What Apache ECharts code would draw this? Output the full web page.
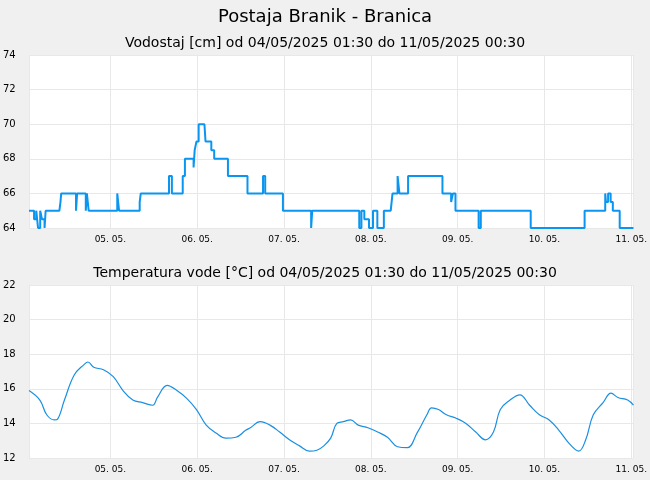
<!DOCTYPE html><html><head><meta charset="utf-8"><script src="https://cdn.jsdelivr.net/npm/echarts@6/dist/echarts.min.js"></script>
<style>html,body{margin:0;background:#f0f0f0}#c{width:650px;height:480px}</style></head><body><div id="c"></div><script>
// hours since 04.05.2025 00:00
const levelHours=[1.5,2.9,3.5,4.0,4.6,5.1,5.8,6.1,9.9,10.2,10.4,14.5,14.8,15.3,17.2,17.5,18.0,18.6,25.9,26.4,27,32.1,32.4,32.7,40.2,41,41.9,44,44.6,45.1,47,47.3,47.8,48.4,50,50.3,51.3,51.9,52.7,53.2,56.5,57,61.9,62.7,66.2,66.8,67.3,71.7,72.2,79.5,79.8,80.3,92.8,93.4,94.2,95.5,96.6,97.8,99,99.6,101.5,102,103.4,103.9,104.4,106.3,106.9,115.8,116.4,118.2,118.7,119.4,120.1,125.8,126.4,126.9,140.2,140.5,155.1,155.6,160.8,161,161.6,162.3,162.9,163.5,164.8,165.4,168.6];
const levelVals=[65,64.5,65,64,65,64.5,64,65,65,65.5,66,65,66,66,65,66,65,65,66,65,65,65.5,66,66,67,66,66,67,68,68,67.5,68.5,69,70,70,69,69,68.5,68,68,67,67,66,66,67,66,66,65,65,64,65,65,64,65,64.5,64,65,64,64,65,65,66,67,66,66,67,67,66,66,65.5,66,65,65,64,65,65,64,64,65,65,66,65.5,66,65.5,65,65,64,64,64];
const tempHours=[1.5,4.5,6.4,8.5,9.4,11.3,14,16.7,17.8,19.4,22.1,24.8,27.5,30.2,32.9,35.7,37,39.7,42.4,45.1,47.8,50.5,53.2,55.9,58.7,61.4,62.7,65.4,68.1,70.8,73.5,76.3,79,81.1,83,84.9,86.6,88.4,90.4,92.5,95.2,97.9,100.6,103.4,106.1,108.8,111.5,112.8,114.7,116.9,119.6,122.3,125,127.7,129.9,131.8,134.5,137.2,139.9,142.6,145.3,148,150.8,153.5,155.4,157.5,160.2,162.4,164.3,167,168.6];
const tempVals=[15.9,15.35,14.5,14.2,14.25,15.35,16.8,17.4,17.55,17.25,17.1,16.7,15.9,15.35,15.2,15.05,15.5,16.2,15.9,15.45,14.8,13.9,13.45,13.15,13.2,13.6,13.75,14.1,13.9,13.5,13.05,12.7,12.4,12.45,12.7,13.15,14.0,14.1,14.2,13.9,13.75,13.5,13.2,12.65,12.6,13.45,14.5,14.9,14.8,14.5,14.3,14.0,13.5,13.05,13.5,14.8,15.35,15.65,15.05,14.5,14.2,13.6,12.85,12.4,13.05,14.5,15.2,15.75,15.5,15.35,15.05];
const base=new Date(2025,4,4,0,0).getTime();
const ts=h=>base+h*3600000;
const tmin=ts(1.5),tmax=ts(168.5);
const fam='DejaVu Sans';
function xAx(i){return {type:'time',gridIndex:i,min:tmin,max:tmax,minInterval:86400000,maxInterval:86400000,
 axisLine:{show:false},axisTick:{show:false},splitLine:{show:true,lineStyle:{color:'#e8e8e8'}},
 axisLabel:{formatter:'{dd}. {MM}.',fontSize:9,color:'#000',fontFamily:fam,margin:7,showMinLabel:false}};}
function yAx(i,mn,mx){return {type:'value',gridIndex:i,min:mn,max:mx,interval:2,axisLine:{show:false},axisTick:{show:false},
 splitLine:{lineStyle:{color:'#e8e8e8'}},axisLabel:{fontSize:10,color:'#000',fontFamily:fam,margin:7,align:'left',padding:[0,0,0,-19]}};}
const ch=echarts.init(document.getElementById('c'));
ch.setOption({backgroundColor:'#f0f0f0',animation:false,
 title:[{text:'Postaja Branik - Branica',left:'center',top:3,textStyle:{fontSize:18,fontWeight:'normal',fontFamily:fam,color:'#000'}},
  {text:'Vodostaj [cm] od 04/05/2025 01:30 do 11/05/2025 00:30',left:'center',top:31,textStyle:{fontSize:14,fontWeight:'normal',fontFamily:fam,color:'#000'}},
  {text:'Temperatura vode [°C] od 04/05/2025 01:30 do 11/05/2025 00:30',left:'center',top:261,textStyle:{fontSize:14,fontWeight:'normal',fontFamily:fam,color:'#000'}}],
 grid:[{left:24,right:9,top:55,height:173,show:true,backgroundColor:'#fff',borderWidth:0},
       {left:24,right:9,top:285,height:173,show:true,backgroundColor:'#fff',borderWidth:0}],
 xAxis:[xAx(0),xAx(1)],yAxis:[yAx(0,64,74),yAx(1,12,22)],
 series:[{type:'line',xAxisIndex:0,yAxisIndex:0,step:'end',symbol:'none',lineStyle:{color:'#0a96f0',width:2},data:levelHours.map((h,i)=>[ts(h),levelVals[i]])},
  {type:'line',xAxisIndex:1,yAxisIndex:1,smooth:0.4,symbol:'none',lineStyle:{color:'#1a8fe0',width:1.2},data:tempHours.map((h,i)=>[ts(h),tempVals[i]])}]});
</script></body></html>
